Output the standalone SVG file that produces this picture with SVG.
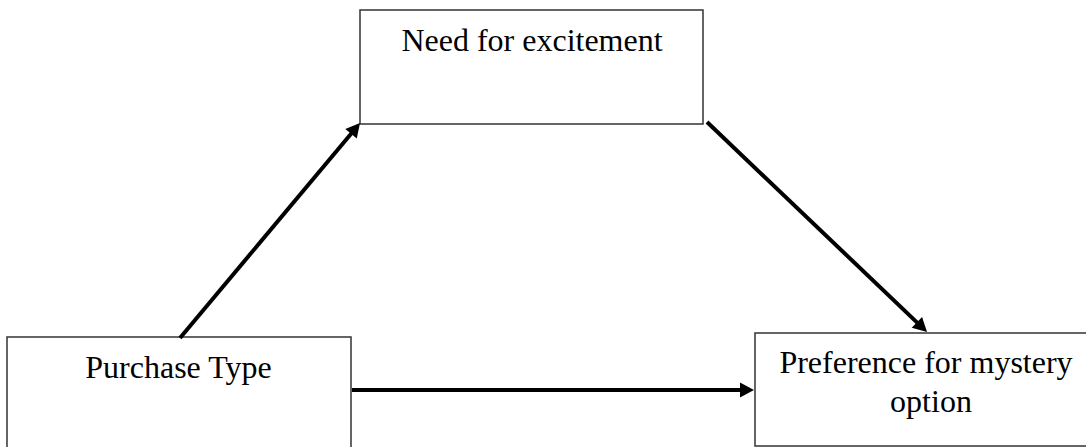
<svg xmlns="http://www.w3.org/2000/svg" width="1086" height="447" viewBox="0 0 1086 447">
<style>
.box{fill:#fff;stroke:#333;stroke-width:1.5}
.lbl{font-family:"Liberation Serif","Times New Roman",serif;font-size:32px;fill:#000;text-anchor:middle}
.conn{stroke:#000;stroke-width:4;fill:none}
</style>
<defs>
<marker id="ah" markerUnits="userSpaceOnUse" markerWidth="14" markerHeight="15" refX="4" refY="7.5" orient="auto" overflow="visible">
<path d="M0,0 L14,7.5 L0,15 z" fill="#000"/>
</marker>
</defs>
<rect width="1086" height="447" fill="#fff"/>
<g id="node-excitement">
<rect class="box" x="360" y="10" width="343" height="114"/>
<text class="lbl" x="532" y="51">Need for excitement</text>
</g>
<g id="node-purchase">
<rect class="box" x="7" y="337" width="344" height="120"/>
<text class="lbl" x="178.5" y="378">Purchase Type</text>
</g>
<g id="node-preference">
<rect class="box" x="755" y="333" width="345" height="113"/>
<text class="lbl" x="926" y="373">Preference for mystery</text>
<text class="lbl" x="931" y="412">option</text>
</g>
<g id="connectors">
<line class="conn" x1="180" y1="338" x2="353.6" y2="130.7" marker-end="url(#ah)"/>
<line class="conn" x1="707" y1="122" x2="919.8" y2="325.1" marker-end="url(#ah)"/>
<line class="conn" x1="352" y1="390" x2="744" y2="390" marker-end="url(#ah)"/>
</g>
</svg>
